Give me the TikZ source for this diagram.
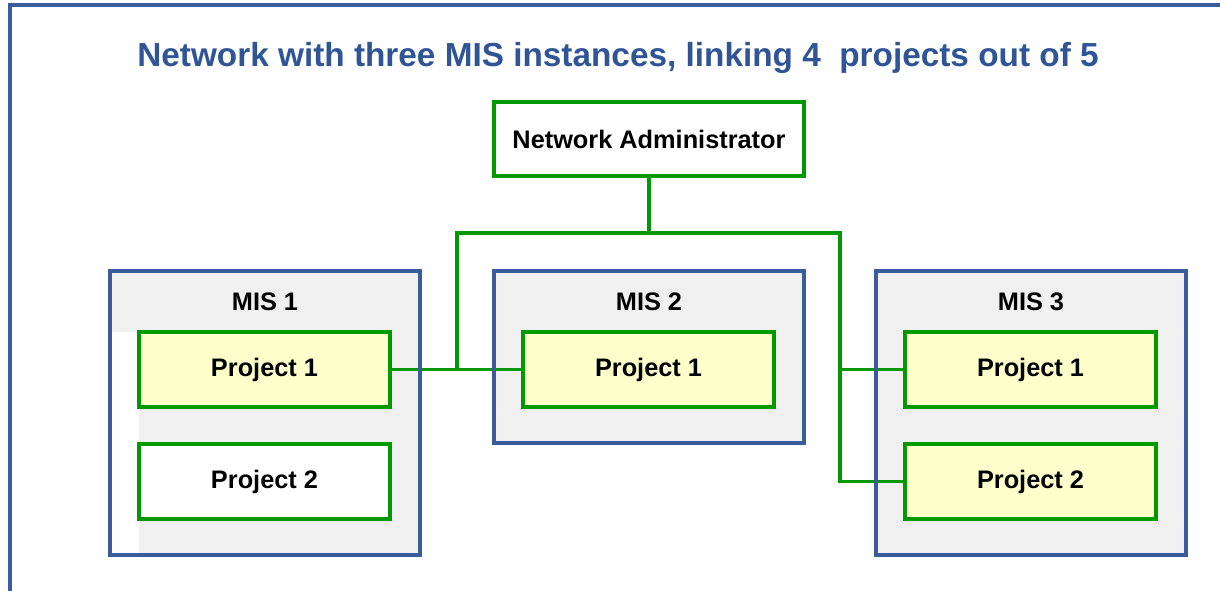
\documentclass[tikz,border=0pt]{standalone}
\usepackage{fontspec}
\setmainfont{Liberation Sans}
\definecolor{frameblue}{HTML}{3A5B9C}
\definecolor{titleblue}{HTML}{2F5597}
\definecolor{linkgreen}{HTML}{009A00}
\definecolor{panelgray}{HTML}{F0F0F0}
\definecolor{projyellow}{HTML}{FFFFCC}
\begin{document}
\begin{tikzpicture}[x=0.75pt,y=-0.75pt,
  txt/.style={font=\fontsize{19}{22}\selectfont\bfseries, text=black},
  misbox/.style={draw=frameblue, line width=2.4pt, fill=panelgray, inner sep=0pt,
    outer sep=0pt, minimum width=232.5pt, anchor=north west},
  misedge/.style={draw=frameblue, line width=2.4pt},
  proj/.style={txt, draw=linkgreen, line width=2.3pt, fill=projyellow, inner sep=0pt,
    minimum width=188.25pt, minimum height=56.25pt},
  projplain/.style={proj, fill=white},
  link/.style={draw=linkgreen, line width=2.3pt}]
\useasboundingbox (0,0) rectangle (1220,591);
\fill[white] (0,0) rectangle (1220,591);
% outer frame (runs off the right and bottom edges)
\draw[frameblue, line width=3.3pt] (10,600) -- (10,5) -- (1230,5);
% title
\node[font=\fontsize{25}{30}\selectfont\bfseries, text=titleblue] (title) at (618,58)
  {Network with three MIS instances, linking 4~~projects out of 5};
% administrator
\node[txt, draw=linkgreen, line width=2.3pt, fill=white, minimum width=232.5pt,
  minimum height=55.5pt, inner sep=0pt] (admin) at (649,139) {Network Administrator};
% MIS panels
\node[misbox, minimum height=213pt] (m1) at (110,271) {};
\node[misbox, minimum height=129pt] (m2) at (494,271) {};
\node[misbox, minimum height=213pt] (m3) at (876,271) {};
\fill[white] (111.6,332) rectangle (139,554.4);
\node[txt] (m1t) at (265,302) {MIS 1};
\node[txt] (m2t) at (649,302) {MIS 2};
\node[txt] (m3t) at (1031,302) {MIS 3};
% projects
\node[proj] (p11) at (264.5,369.5) {Project 1};
\node[projplain] (p12) at (264.5,481.5) {Project 2};
\node[proj] (p21) at (648.5,369.5) {Project 1};
\node[proj] (p31) at (1030.5,369.5) {Project 1};
\node[proj] (p32) at (1030.5,481.5) {Project 2};
% links
\coordinate (bus) at (649,233);
\coordinate (jl) at (457,369.5);
\coordinate (jr) at (840,369.5);
\draw[link] (admin.south) -- (bus);
\draw[link] (jl) |- (bus) -| (jr) |- (p32.west);
\draw[link] (p11.east) -- (p21.west);
\draw[link] (jr) -- (p31.west);
% panel borders over the links
\foreach \m in {m1,m2,m3}
  \draw[misedge] (\m.north west) rectangle (\m.south east);
\end{tikzpicture}
\end{document}
